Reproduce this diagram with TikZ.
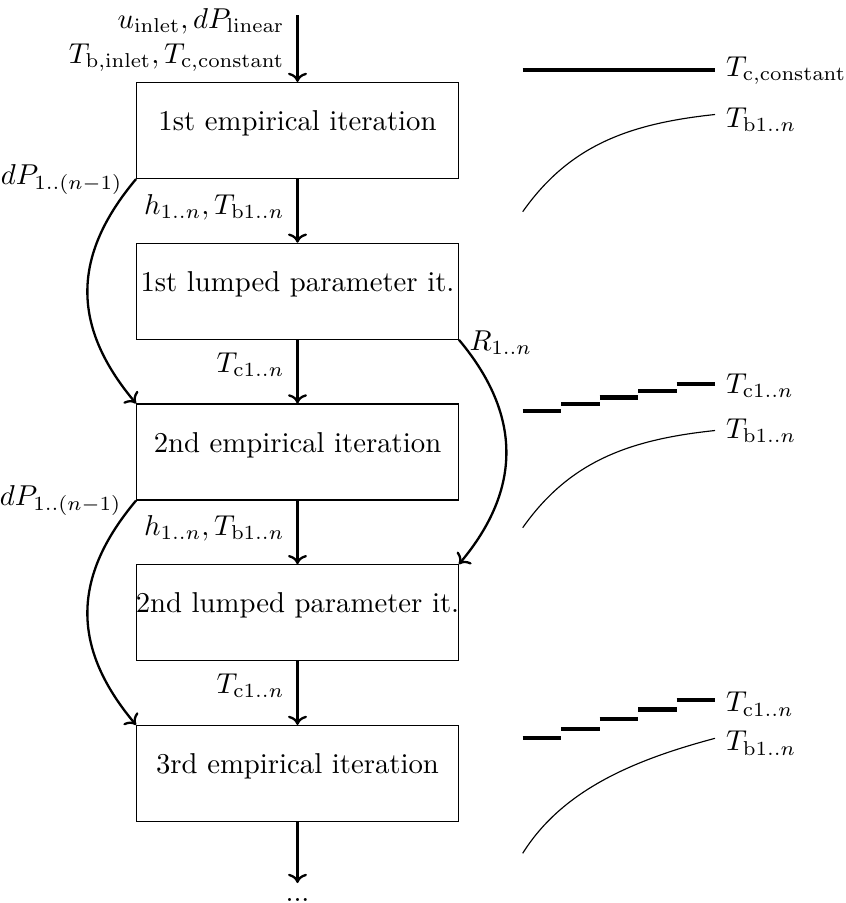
\documentclass[tikz,border=0pt]{standalone}
\usetikzlibrary{arrows.meta}
\begin{document}
\begin{tikzpicture}[x=0.3481pt,y=-0.3481pt,
  stage/.style={draw,line width=0.4pt,minimum width=112pt,minimum height=33.4pt,inner sep=0pt},
  flow/.style={-{To[length=3.2pt,width=6.6pt]},line width=0.8pt},
  lbl/.style={inner sep=0pt},
  tline/.style={line width=1.4pt},
  bline/.style={line width=0.4pt}]
\useasboundingbox (0,0) rectangle (846,903);

% stages
\node[stage] (b1) at (297.5,130.5) {};
\node[stage] (b2) at (297.5,291.25) {};
\node[stage] (b3) at (297.5,452) {};
\node[stage] (b4) at (297.5,612.75) {};
\node[stage] (b5) at (297.5,773.5) {};
\node[lbl,anchor=base] (t1) at (b1.center) {1st empirical iteration};
\node[lbl,anchor=base] (t2) at (b2.center) {1st lumped parameter it.};
\node[lbl,anchor=base] (t3) at (b3.center) {2nd empirical iteration};
\node[lbl,anchor=base] (t4) at (b4.center) {2nd lumped parameter it.};
\node[lbl,anchor=base] (t5) at (b5.center) {3rd empirical iteration};

% inputs
\coordinate (in) at (297.5,15);
\node[lbl,anchor=base east] (in1) at (285,28.3) {$u_\mathrm{inlet}, dP_\mathrm{linear}$};
\node[lbl,anchor=base east] (in2) at (285,63.3) {$T_\mathrm{b,inlet}, T_\mathrm{c,constant}$};
\node[lbl,anchor=north,text height=6.1pt] (dots) at (297.5,883) {...};

% vertical flow
\draw[flow] (in) -- (b1);
\draw[flow] (b1) -- (b2);
\draw[flow] (b2) -- (b3);
\draw[flow] (b3) -- (b4);
\draw[flow] (b4) -- (b5);
\draw[flow] (b5) -- (dots);

% edge labels
\node[lbl,anchor=base east] (h1) at (285,214) {$h_{1..n}, T_{\mathrm{b}1..n}$};
\node[lbl,anchor=base east] (c1) at (285,372) {$T_{\mathrm{c}1..n}$};
\node[lbl,anchor=base east] (h2) at (285,535) {$h_{1..n}, T_{\mathrm{b}1..n}$};
\node[lbl,anchor=base east] (c2) at (285,693) {$T_{\mathrm{c}1..n}$};

% side curves
\draw[flow] (b1.south west) to[bend right=40,looseness=1.15] (b3.north west);
\draw[flow] (b3.south west) to[bend right=40,looseness=1.15] (b5.north west);
\draw[flow] (b2.south east) to[bend left=40,looseness=1.12] (b4.north east);
\node[lbl,anchor=base east] (p1) at (123,184) {$dP_{1..(n-1)}$};
\node[lbl,anchor=base east] (p2) at (122,505.5) {$dP_{1..(n-1)}$};
\node[lbl,anchor=base west] (r1) at (469,350) {$R_{1..n}$};

% plot 1
\draw[tline] (522.7,70) -- (715,70);
\node[lbl,anchor=base west] (pc1) at (725.5,76.5) {$T_\mathrm{c,constant}$};
\draw[bline] plot[domain=0:192.3,samples=60,smooth] ({522.7+\x},{211.7-105*(1-exp(-\x/74))});
\node[lbl,anchor=base west] (pb1) at (725.5,127) {$T_{\mathrm{b}1..n}$};

% plot 2
\foreach \i in {0,...,4} \draw[tline] ({522.7+38.46*\i},{410.7-6.6*\i}) -- ++(38.46,0);
\node[lbl,anchor=base west] (pc2) at (725.5,393.3) {$T_{\mathrm{c}1..n}$};
\draw[bline] plot[domain=0:192.3,samples=60,smooth] ({522.7+\x},{527.7-105*(1-exp(-\x/74))});
\node[lbl,anchor=base west] (pb2) at (725.5,438.3) {$T_{\mathrm{b}1..n}$};

% plot 3
\foreach \i in {0,...,4} \draw[tline] ({522.7+38.46*\i},{738.3-9.6*\i}) -- ++(38.46,0);
\node[lbl,anchor=base west] (pc3) at (725.5,711.7) {$T_{\mathrm{c}1..n}$};
\draw[bline] (522.7,853.3) .. controls (562.7,789.3) and (635,759.7) .. (715,738.3);
\node[lbl,anchor=base west] (pb3) at (725.5,750.7) {$T_{\mathrm{b}1..n}$};
\end{tikzpicture}
\end{document}
